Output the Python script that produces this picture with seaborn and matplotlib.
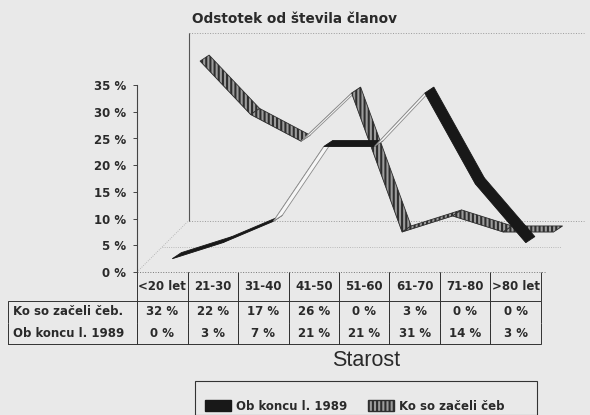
import numpy as np
import pandas as pd
import matplotlib
matplotlib.use("Agg")
import matplotlib.pyplot as plt
from matplotlib.patches import Polygon, Patch, Rectangle
import seaborn as sns

categories = ["<20 let", "21-30", "31-40", "41-50", "51-60", "61-70", "71-80", ">80 let"]
ko_so_zaceli = [32, 22, 17, 26, 0, 3, 0, 0]
ob_koncu_1989 = [0, 3, 7, 21, 21, 31, 14, 3]
row_labels = ["Ko so začeli čeb.", "Ob koncu l. 1989"]
legend_labels = ["Ob koncu l. 1989", "Ko so začeli čeb"]
y_ticks = [0, 5, 10, 15, 20, 25, 30, 35]

BG = "#e9e9e9"
INK = "#2a2a2a"
DARK = "#181818"
HATCH_FACE = "#9c9c9c"
HATCH_EDGE = "#2e2e2e"

sns.set_theme(style="white")
plt.rcParams["font.family"] = ["DejaVu Sans"]
plt.rcParams["hatch.linewidth"] = 1.5

W, H = 590, 415
fig = plt.figure(figsize=(5.9, 4.15), dpi=100, facecolor=BG)

# axes placed so that one category = 50.5 px and 1 % = 5.34 px
PX_X = 50.5
PX_Y = 5.34
x_lo, x_hi, y_hi = -0.5, 8.4, 48
ax_left, ax_bottom = 137, 272
ax = fig.add_axes([ax_left / W, 1 - ax_bottom / H,
                   (x_hi - x_lo) * PX_X / W, y_hi * PX_Y / H])
ax.set_facecolor(BG)
ax.set_xlim(x_lo, x_hi)
ax.set_ylim(0, y_hi)

depth = (9 / PX_X, 6 / PX_Y)

# back wall + floor
wall_x, wall_y, wall_top = 0.52, 9.6, 44.8
ax.plot([wall_x, wall_x], [wall_y, wall_top], color="#555555", lw=0.8)
ax.plot([wall_x, 8.35], [wall_top, wall_top], ls=":", color="#9a9a9a", lw=0.7)
ax.plot([wall_x, 8.35], [wall_y, wall_y], ls=":", color="#9a9a9a", lw=0.7)
ax.plot([x_lo, wall_x], [0, wall_y], ls=":", color="#aaaaaa", lw=0.6)
ax.plot([0.0, 7.9], [4.7, 4.7], ls=":", color="#aaaaaa", lw=0.6)
ax.plot([x_lo, 7.6], [0, 0], ls=":", color="#777777", lw=0.7, clip_on=False)


def draw_ribbon(values, ox, oy, face, edge, hatch=None):
    df = pd.DataFrame({"pos": np.arange(len(values)) + ox,
                       "val": np.array(values, dtype=float) + oy})
    sns.lineplot(data=df, x="pos", y="val", ax=ax, color="#888888",
                 lw=0.6, legend=False, zorder=2)
    for i in range(len(values) - 1):
        x0, x1 = df.pos[i], df.pos[i + 1]
        y0, y1 = df.val[i], df.val[i + 1]
        cross = (x1 - x0) * PX_X * depth[1] * PX_Y - (y1 - y0) * PX_Y * depth[0] * PX_X
        pts = [(x0, y0), (x1, y1), (x1 + depth[0], y1 + depth[1]), (x0 + depth[0], y0 + depth[1])]
        if cross >= 0:
            poly = Polygon(pts, closed=True, facecolor=face, edgecolor=edge,
                           hatch=hatch, lw=0.6, zorder=3)
        else:
            poly = Polygon(pts, closed=True, facecolor="#f6f6f6", edgecolor="#8a8a8a",
                           lw=0.6, zorder=3)
        ax.add_patch(poly)


draw_ribbon(ko_so_zaceli, 0.75, 7.5, HATCH_FACE, HATCH_EDGE, hatch="||||")
draw_ribbon(ob_koncu_1989, 0.2, 2.5, DARK, DARK)

ax.set_xlabel("")
ax.set_ylabel("")
ax.set_xticks([])
ax.set_yticks(y_ticks)
ax.set_yticklabels([f"{t} %" for t in y_ticks], fontweight="bold")
ax.tick_params(axis="y", left=True, length=3, width=0.6, pad=5,
               labelsize=8.5, colors=INK)
for side in ["top", "right", "bottom"]:
    ax.spines[side].set_visible(False)
ax.spines["left"].set_bounds(0, 35)
ax.spines["left"].set_color("#444444")
ax.spines["left"].set_linewidth(0.8)

# data table under the chart
header = [""] + categories
rows = [[row_labels[0]] + [f"{v} %" for v in ko_so_zaceli],
        [row_labels[1]] + [f"{v} %" for v in ob_koncu_1989]]
widths = [129] + [PX_X] * len(categories)
tbl_w = sum(widths)
widths = [w / tbl_w for w in widths]
ax_w_px = (x_hi - x_lo) * PX_X
ax_h_px = y_hi * PX_Y
tbl = ax.table(cellText=[header] + rows, cellLoc="center", colWidths=widths,
               bbox=[(8 - ax_left) / ax_w_px, -72 / ax_h_px, tbl_w / ax_w_px, 72 / ax_h_px])
tbl.auto_set_font_size(False)
tbl.set_fontsize(8.5)
for (r, c), cell in tbl.get_celld().items():
    cell.set_facecolor("none")
    cell.set_edgecolor("#333333")
    cell.set_linewidth(0.7)
    cell.set_text_props(color=INK, fontweight="bold")
    if r == 0:
        cell.set_height(29)
        cell.visible_edges = "" if c == 0 else "LR"
    else:
        cell.set_height(21.5)
        cell.visible_edges = "TLR" if r == 1 else "BLR"
    if c == 0:
        cell.PAD = 0.035
        cell.get_text().set_horizontalalignment("left")

fig.text(295 / W, 1 - 19 / H, "Odstotek od števila članov", fontsize=9.8,
         fontweight="bold", ha="center", va="center", color=INK)
fig.text(366 / W, 1 - 360 / H, "Starost", fontsize=15.5, family="Liberation Sans",
         ha="center", va="center", color=INK)

# legend box (runs off the bottom edge like the scan)
fig.patches.append(Rectangle((195 / W, 0), (537 - 195) / W, 1 - 385 / H + 0.01,
                             transform=fig.transFigure, facecolor=BG,
                             edgecolor="#333333", lw=0.8))
handles = [Patch(facecolor=DARK, edgecolor=DARK),
           Patch(facecolor=HATCH_FACE, edgecolor=HATCH_EDGE, hatch="||||")]
leg = fig.legend(handles, legend_labels, loc="center left", ncol=2,
                 bbox_to_anchor=(205 / W, 1 - 406 / H), frameon=False,
                 prop={"size": 8.5, "weight": "bold"},
                 handlelength=2.2, handleheight=1.0, handletextpad=0.4,
                 columnspacing=1.8, borderpad=0, borderaxespad=0)
for t in leg.get_texts():
    t.set_color(INK)

fig.savefig("out.png", dpi=100, facecolor=BG)
